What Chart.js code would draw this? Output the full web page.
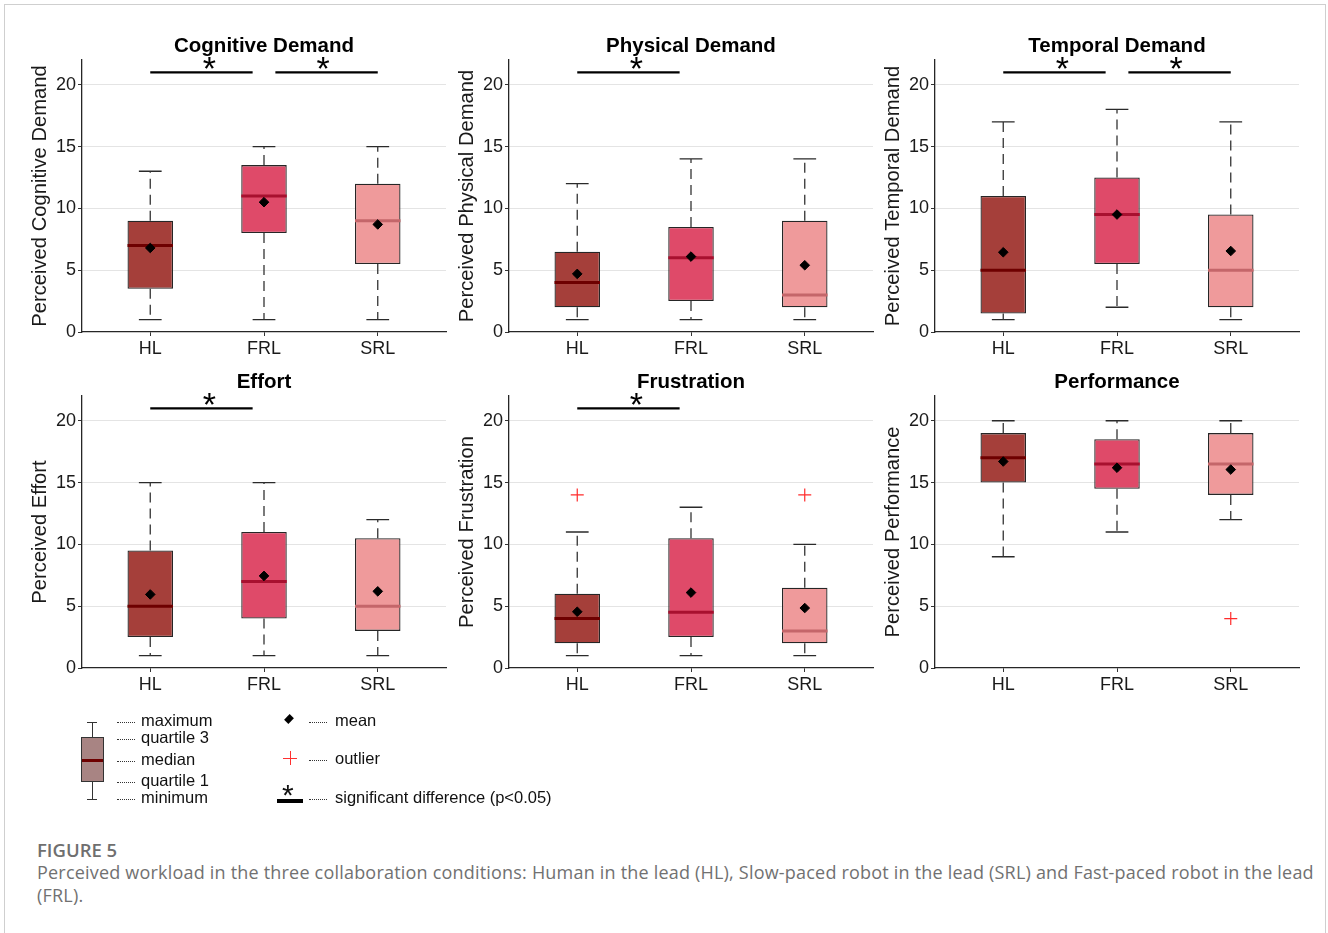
<!DOCTYPE html>
<html>
<head>
<meta charset="utf-8">
<script src="https://cdn.jsdelivr.net/npm/chart.js@4.4.1/dist/chart.umd.min.js"></script>
<style>
  body { margin: 0; background: #fff; font-family: "Liberation Sans", Arial, sans-serif; }
  #frame { position: absolute; left: 4px; top: 4px; width: 1320px; height: 940px; border: 1px solid #cfcfcf; }
  canvas.panel { position: absolute; }
  .lg { position: absolute; font-size: 16.5px; line-height: 18px; color: #111; white-space: nowrap; }
  .dots { position: absolute; width: 18px; border-top: 1.5px dotted #333; }
  .blk { position: absolute; background: #333; }
  #figlabel { position: absolute; left: 37px; top: 837px; font-family: "Open Sans", sans-serif; font-weight: 600; font-size: 18.5px; color: #6f6f6f; }
  #caption { position: absolute; left: 37px; top: 861px; width: 1290px; font-family: "Open Sans", sans-serif; font-size: 18px; letter-spacing: 0.2px; line-height: 23px; color: #717171; white-space: nowrap; }
</style>
</head>
<body>
<div id="frame"></div>
<div id="panels"></div>

<!-- key -->
<div class="blk" style="left:87px;top:722px;width:10px;height:1px"></div>
<div class="blk" style="left:92px;top:722px;width:1px;height:16px"></div>
<div style="position:absolute;left:81px;top:737px;width:21px;height:43px;background:#a88483;border:1px solid #333"></div>
<div style="position:absolute;left:82px;top:759px;width:21px;height:3px;background:#6e0000"></div>
<div class="blk" style="left:92px;top:782px;width:1px;height:17px"></div>
<div class="blk" style="left:87px;top:799px;width:10px;height:1px"></div>
<div class="dots" style="left:117px;top:722px"></div><div class="lg" style="left:141px;top:711px">maximum</div>
<div class="dots" style="left:117px;top:739px"></div><div class="lg" style="left:141px;top:728px">quartile 3</div>
<div class="dots" style="left:117px;top:761px"></div><div class="lg" style="left:141px;top:750px">median</div>
<div class="dots" style="left:117px;top:782px"></div><div class="lg" style="left:141px;top:771px">quartile 1</div>
<div class="dots" style="left:117px;top:799px"></div><div class="lg" style="left:141px;top:788px">minimum</div>

<div style="position:absolute;left:286px;top:716px;width:6px;height:6px;background:#000;transform:rotate(45deg) scale(1,1.3)"></div>
<div class="dots" style="left:309px;top:722px"></div><div class="lg" style="left:335px;top:711px">mean</div>
<div style="position:absolute;left:283px;top:758px;width:14px;height:1.3px;background:#ff3030"></div>
<div style="position:absolute;left:289.5px;top:751px;width:1.3px;height:14px;background:#ff3030"></div>
<div class="dots" style="left:309px;top:760px"></div><div class="lg" style="left:335px;top:749px">outlier</div>
<div class="blk" style="left:277px;top:799px;width:26px;height:4px;background:#000"></div>
<div class="lg" style="left:282px;top:786px;font-size:30px">*</div>
<div class="dots" style="left:309px;top:799px"></div><div class="lg" style="left:335px;top:788px">significant difference (p&lt;0.05)</div>

<div id="figlabel">FIGURE 5</div>
<div id="caption">Perceived workload in the three collaboration conditions: Human in the lead (HL), Slow-paced robot in the lead (SRL) and Fast-paced robot in the lead<br>(FRL).</div>

<script>
// conditions on the x axis
const conditions = ["HL", "FRL", "SRL"];
const measures = ["Cognitive Demand", "Physical Demand", "Temporal Demand", "Effort", "Frustration", "Performance"];
const yTitles = ["Perceived Cognitive Demand", "Perceived Physical Demand", "Perceived Temporal Demand",
  "Perceived Effort", "Perceived Frustration", "Perceived Performance"];
const yTicks = [0, 5, 10, 15, 20];

// box statistics, one row per measure, columns HL / FRL / SRL
const minimum   = [[1, 1, 1], [1, 1, 1], [1, 2, 1], [1, 1, 1], [1, 1, 1], [9, 11, 12]];
const quartile1 = [[3.5, 8, 5.5], [2, 2.5, 2], [1.5, 5.5, 2], [2.5, 4, 3], [2, 2.5, 2], [15, 14.5, 14]];
const median    = [[7, 11, 9], [4, 6, 3], [5, 9.5, 5], [5, 7, 5], [4, 4.5, 3], [17, 16.5, 16.5]];
const quartile3 = [[9, 13.5, 12], [6.5, 8.5, 9], [11, 12.5, 9.5], [9.5, 11, 10.5], [6, 10.5, 6.5], [19, 18.5, 19]];
const maximum   = [[13, 15, 15], [12, 14, 14], [17, 18, 17], [15, 15, 12], [11, 13, 10], [20, 20, 20]];
const mean      = [[6.8, 10.5, 8.7], [4.7, 6.1, 5.4], [6.45, 9.5, 6.55], [5.95, 7.45, 6.2], [4.55, 6.1, 4.85], [16.7, 16.2, 16.05]];
// outliers as [condition index, value]
const outliers  = [[], [], [], [], [[0, 14], [2, 14]], [[2, 4]]];
// significant pairs (condition indices)
const significant = [[[0, 1], [1, 2]], [[0, 1]], [[0, 1], [1, 2]], [[0, 1]], [[0, 1]], []];
const sigLevel = 21;

const BOX_FILL = ["#a53f3a", "#df4a69", "#ef9a9b"];
const MEDIAN_COLOR = ["#6e0000", "#a8102f", "#c4666a"];
const FONT = "'Liberation Sans', Arial, sans-serif";

function gap(x) { return { x, y: null }; }

function buildPanel(p) {
  const col = p % 3, row = Math.floor(p / 3);
  const canvas = document.createElement("canvas");
  canvas.className = "panel";
  canvas.width = 450;
  canvas.height = 345;
  canvas.style.left = (10 + col * 426.5) + "px";
  canvas.style.top = (30 + row * 336) + "px";
  document.getElementById("panels").appendChild(canvas);

  const whiskers = [], caps = [], sigLines = [];
  conditions.forEach((c, i) => {
    const x = i + 1;
    whiskers.push({ x, y: quartile3[p][i] }, { x, y: maximum[p][i] }, gap(x),
                  { x, y: quartile1[p][i] }, { x, y: minimum[p][i] }, gap(x));
    caps.push({ x: x - 0.1, y: maximum[p][i] }, { x: x + 0.1, y: maximum[p][i] }, gap(x),
              { x: x - 0.1, y: minimum[p][i] }, { x: x + 0.1, y: minimum[p][i] }, gap(x));
  });
  significant[p].forEach(([a, b]) => {
    const start = a + 1 + (a === 1 ? 0.1 : 0);
    const end = b + 1 - (b === 1 ? 0.1 : 0);
    sigLines.push({ x: start, y: sigLevel }, { x: end, y: sigLevel }, gap(end));
  });

  const lineBase = { type: "line", pointRadius: 0, fill: false, tension: 0, spanGaps: false };
  const datasets = [
    {
      type: "bar",
      data: conditions.map((c, i) => ({ x: i + 1, y: [quartile1[p][i], quartile3[p][i]] })),
      backgroundColor: BOX_FILL,
      borderColor: "#262626",
      borderWidth: 1.3,
      borderSkipped: false,
      categoryPercentage: 0.4,
      barPercentage: 1,
      order: 5,
    },
    { ...lineBase, data: whiskers, borderColor: "#333", borderWidth: 1.3, borderDash: [10, 6], order: 4 },
    { ...lineBase, data: caps, borderColor: "#2a2a2a", borderWidth: 1.3, order: 4 },
    ...conditions.map((c, i) => ({
      ...lineBase,
      data: [{ x: i + 0.8, y: median[p][i] }, { x: i + 1.2, y: median[p][i] }],
      borderColor: MEDIAN_COLOR[i],
      borderWidth: 3,
      order: 2,
    })),
    { ...lineBase, data: sigLines, borderColor: "#000", borderWidth: 2.2, order: 2 },
    {
      type: "scatter",
      data: conditions.map((c, i) => ({ x: i + 1, y: mean[p][i] })),
      pointStyle: "rectRot",
      pointRadius: 4.8,
      backgroundColor: "#000",
      borderColor: "#000",
      borderWidth: 1,
      order: 1,
    },
    {
      type: "scatter",
      data: outliers[p].map(([i, v]) => ({ x: i + 1, y: v })),
      pointStyle: "cross",
      pointRadius: 6.5,
      borderColor: "#ff2b2b",
      borderWidth: 1.2,
      order: 1,
    },
  ];

  const stars = {
    id: "stars" + p,
    afterDatasetsDraw(chart) {
      const { ctx, scales } = chart;
      ctx.save();
      ctx.font = "34px " + FONT;
      ctx.fillStyle = "#000";
      ctx.textAlign = "center";
      ctx.textBaseline = "alphabetic";
      significant[p].forEach(([a, b]) => {
        const mid = (a + b) / 2 + 1 + 0.02;
        ctx.fillText("*", scales.x.getPixelForValue(mid), scales.y.getPixelForValue(sigLevel) + 7.5);
      });
      ctx.restore();
    },
  };

  new Chart(canvas, {
    type: "bar",
    data: { datasets },
    plugins: [stars],
    options: {
      responsive: false,
      animation: false,
      layout: { padding: { left: 0, right: 14, top: 0, bottom: 3 } },
      plugins: {
        legend: { display: false },
        tooltip: { enabled: false },
        title: {
          display: true,
          text: measures[p],
          fullSize: false,
          color: "#000",
          font: { family: FONT, size: 20.5, weight: "bold" },
          padding: { top: 3.7, bottom: 1.7 },
        },
      },
      scales: {
        x: {
          type: "linear",
          min: 0.4,
          max: 3.6,
          offset: false,
          afterBuildTicks: (scale) => { scale.ticks = conditions.map((c, i) => ({ value: i + 1 })); },
          afterFit: (scale) => { scale.height = 40; },
          ticks: {
            callback: (v) => conditions[v - 1],
            color: "#1a1a1a",
            font: { family: FONT, size: 18 },
            padding: 2,
            maxRotation: 0,
          },
          grid: { drawOnChartArea: false, drawTicks: true, tickLength: 4, tickColor: "#333", offset: false },
          border: { color: "#262626", width: 1.3 },
        },
        y: {
          min: 0,
          max: 22,
          afterBuildTicks: (scale) => { scale.ticks = yTicks.map((v) => ({ value: v })); },
          afterFit: (scale) => { scale.width = 72; },
          ticks: { color: "#1a1a1a", font: { family: FONT, size: 18 }, padding: 2 },
          grid: {
            color: (ctx) => (ctx.tick && ctx.tick.value === 0 ? "rgba(0,0,0,0)" : "#e4e4e4"),
            lineWidth: 1,
            drawTicks: true,
            tickLength: 4,
            tickColor: "#333",
          },
          border: { color: "#262626", width: 1.3 },
          title: {
            display: true,
            text: yTitles[p],
            color: "#1a1a1a",
            font: { family: FONT, size: 20.2 },
            padding: { top: 17.9, bottom: 0 },
          },
        },
      },
    },
  });
}

measures.forEach((m, p) => buildPanel(p));
</script>
</body>
</html>
